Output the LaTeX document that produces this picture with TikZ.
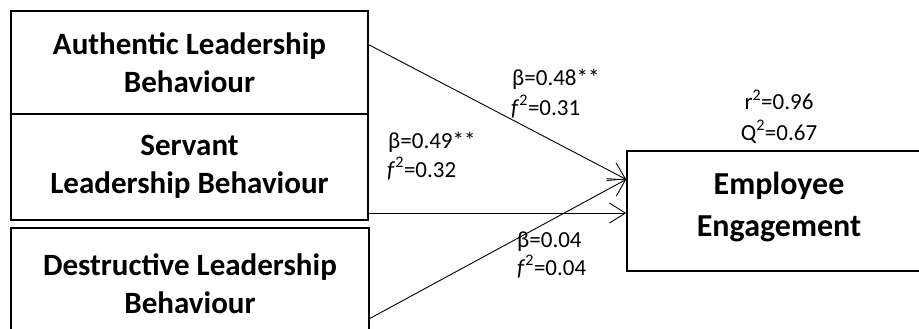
\documentclass[tikz,border=0pt]{standalone}
\usepackage{fontspec}
\setmainfont{Carlito}
\usetikzlibrary{arrows.meta,calc}
\begin{document}
\begin{tikzpicture}[x=1pt,y=-1pt,
  box/.style={draw, line width=1.5pt, inner sep=0pt, align=center, font=\fontsize{31}{38}\selectfont\bfseries},
  lbl/.style={inner sep=0pt, anchor=base west, font=\fontsize{23}{29}\selectfont},
  conn/.style={line width=0.9pt, -{Straight Barb[length=16pt,width=20pt,line width=0.9pt]}}]
\useasboundingbox (0,0) rectangle (919,329);
\clip (0,0) rectangle (919,329);
% boxes
\node[box, minimum width=357pt, minimum height=103pt] (A) at (189.5,62.5) {Authentic Leadership\\Behaviour};
\node[box, minimum width=357pt, minimum height=106pt] (S) at (189.5,167) {Servant\\Leadership Behaviour};
\node[box, minimum width=358pt, minimum height=112pt] (D) at (190,284) {Destructive Leadership\\Behaviour};
\node[box, minimum width=304pt, minimum height=120pt] (E) at (779,211) {};
\node[inner sep=0pt, align=center, font=\fontsize{32}{42}\selectfont\bfseries] (Et) at (779,206.5) {Employee\\Engagement};
% connector end points
\coordinate (aS) at ($(A.north east)!0.33!(A.south east)$);
\coordinate (dS) at ($(D.north east)!0.804!(D.south east)$);
\coordinate (eT) at ($(E.north west)!0.24!(E.south west)$);
\coordinate (eS) at ($(E.north west)!0.517!(E.south west)$);
\draw[conn] (aS) -- (eT);
\draw[conn] (dS) -- (eT);
\draw[conn] (S.east |- eS) -- (eS);
% labels
\node[lbl] (b1) at (512,85) {β=0.48**};
\node[lbl] (f1) at (511,115) {\textit{f}\textsuperscript{2}=0.31};
\node[lbl] (b2) at (388,148) {β=0.49**};
\node[lbl] (f2) at (387,177) {\textit{f}\textsuperscript{2}=0.32};
\node[lbl] (b3) at (517,247) {β=0.04};
\node[lbl] (f3) at (517,275) {\textit{f}\textsuperscript{2}=0.04};
\node[lbl, anchor=base] (r2) at (779,110) {r\textsuperscript{2}=0.96};
\node[lbl, anchor=base] (q2) at (779,140) {Q\textsuperscript{2}=0.67};
\end{tikzpicture}
\end{document}
